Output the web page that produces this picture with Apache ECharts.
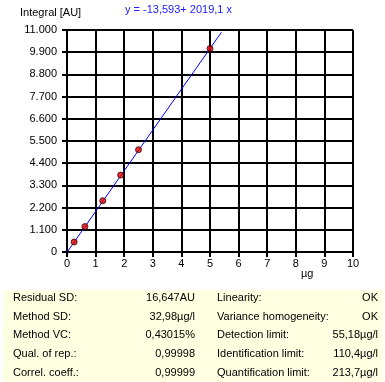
<!DOCTYPE html>
<html>
<head>
<meta charset="utf-8">
<script src="https://cdn.jsdelivr.net/npm/echarts@6/dist/echarts.min.js"></script>
<style>
html,body{margin:0;padding:0;background:#fff;}
#c{width:385px;height:382px;}
</style>
</head>
<body>
<div id="c"></div>
<script>
// ---- data ----
var xValues = [0.25, 0.625, 1.25, 1.875, 2.5, 5];
var yValues = [495, 1260, 2540, 3810, 5070, 10080];
var fitIntercept = -13.593;
var fitSlope = 2019.1;
var fitRange = [0, 5.4];
var yTickLabels = ['0','1.100','2.200','3.300','4.400','5.500','6.600','7.700','8.800','9.900','11.000'];
var xTickLabels = ['0','1','2','3','4','5','6','7','8','9','10'];
var equationText = 'y = -13,593+ 2019,1 x';
var yAxisName = 'Integral [AU]';
var xAxisName = 'µg';
var statsLeftLabels = ['Residual SD:','Method SD:','Method VC:','Qual. of rep.:','Correl. coeff.:'];
var statsLeftValues = ['16,647AU','32,98µg/l','0,43015%','0,99998','0,99999'];
var statsRightLabels = ['Linearity:','Variance homogeneity:','Detection limit:','Identification limit:','Quantification limit:'];
var statsRightValues = ['OK','OK','55,18µg/l','110,4µg/l','213,7µg/l'];

var FONT = '"Liberation Sans", Arial, sans-serif';
var points = xValues.map(function(x, i){ return [x, yValues[i]]; });
var fitLine = fitRange.map(function(x){ return [x, fitIntercept + fitSlope * x]; });

var graphics = [
  {type:'rect', left:3, top:290, shape:{width:380, height:92}, style:{fill:'#ffffe1'}, z:0},
  {type:'text', left:20, top:7, style:{text:yAxisName, font:'11px ' + FONT, fill:'#000'}},
  {type:'text', left:125, top:4, style:{text:equationText, font:'11px ' + FONT, fill:'#2020ff'}},
  {type:'text', left:301, top:268, style:{text:xAxisName, font:'11px ' + FONT, fill:'#000'}}
];
var rowY = [298, 316.5, 335, 353.5, 372.5];
for (var i = 0; i < rowY.length; i++) {
  graphics.push({type:'text', x:13, y:rowY[i], style:{text:statsLeftLabels[i], font:'11px ' + FONT, fill:'#000', verticalAlign:'middle', align:'left'}, z:2});
  graphics.push({type:'text', x:195, y:rowY[i], style:{text:statsLeftValues[i], font:'11px ' + FONT, fill:'#000', verticalAlign:'middle', align:'right'}, z:2});
  graphics.push({type:'text', x:217, y:rowY[i], style:{text:statsRightLabels[i], font:'11px ' + FONT, fill:'#000', verticalAlign:'middle', align:'left'}, z:2});
  graphics.push({type:'text', x:378, y:rowY[i], style:{text:statsRightValues[i], font:'11px ' + FONT, fill:'#000', verticalAlign:'middle', align:'right'}, z:2});
}

var chart = echarts.init(document.getElementById('c'), null, {renderer:'canvas'});
chart.setOption({
  animation:false,
  backgroundColor:'#fff',
  grid:{left:67, right:32, top:30, bottom:130, containLabel:false},
  xAxis:{
    type:'value', min:0, max:10, interval:1,
    axisLine:{show:true, onZero:false, lineStyle:{color:'#000', width:2}},
    axisTick:{show:true, length:5, lineStyle:{color:'#000', width:2}},
    axisLabel:{margin:6, color:'#000', fontFamily:FONT, fontSize:11,
      formatter:function(v){ return xTickLabels[Math.round(v)]; }},
    splitLine:{show:true, lineStyle:{color:'#000', width:2}}
  },
  yAxis:{
    type:'value', min:0, max:11000, interval:1100,
    axisLine:{show:true, onZero:false, lineStyle:{color:'#000', width:2}},
    axisTick:{show:true, length:5, lineStyle:{color:'#000', width:2}},
    axisLabel:{margin:10, color:'#000', fontFamily:FONT, fontSize:11,
      formatter:function(v){ return yTickLabels[Math.round(v / 1100)]; }},
    splitLine:{show:true, lineStyle:{color:'#000', width:2}}
  },
  graphic:graphics,
  series:[
    {type:'line', data:fitLine, showSymbol:false, symbol:'none',
     lineStyle:{color:'#0000ff', width:1}, z:3},
    {type:'scatter', data:points, symbol:'circle', symbolSize:6,
     itemStyle:{color:'#e00000', borderColor:'#400000', borderWidth:1}, z:4}
  ]
});
</script>
</body>
</html>
